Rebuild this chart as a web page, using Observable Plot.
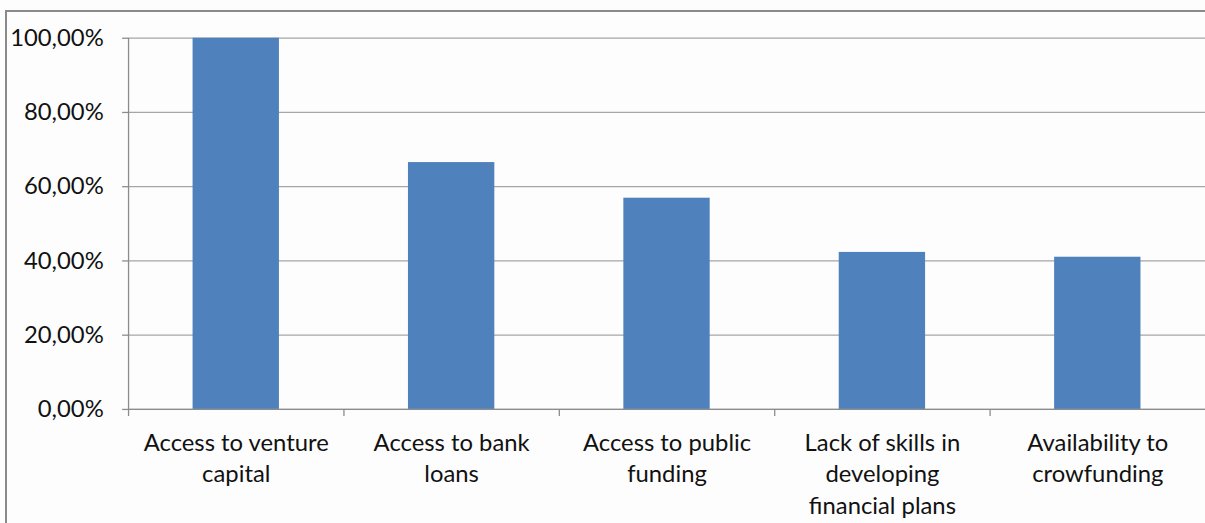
<!DOCTYPE html>
<html>
<head>
<meta charset="utf-8">
<script src="https://cdn.jsdelivr.net/npm/d3@7"></script>
<script src="https://cdn.jsdelivr.net/npm/@observablehq/plot@0.6"></script>
<style>
  html, body { margin: 0; padding: 0; overflow: hidden; background: #fdfdfd; width: 1205px; height: 523px; }
  #frame { position: absolute; left: 5px; top: 10px; width: 1300px; height: 600px; border: 2px solid #8a8a8a; box-sizing: border-box; }
  #chart { position: absolute; left: 0; top: 0; }
  #chart svg { overflow: visible; }
</style>
</head>
<body>
<div id="frame"></div>
<div id="chart"></div>
<script>
const categories = [
  "Access to venture capital",
  "Access to bank loans",
  "Access to public funding",
  "Lack of skills in developing financial plans",
  "Availability to crowfunding"
];
const categoryLabels = [
  "Access to venture\ncapital",
  "Access to bank\nloans",
  "Access to public\nfunding",
  "Lack of skills in\ndeveloping\nfinancial plans",
  "Availability to\ncrowfunding"
];
const values = [1.00, 0.665, 0.569, 0.423, 0.410];
const yTicks = [0, 0.2, 0.4, 0.6, 0.8, 1.0];

const data = categories.map((c, i) => ({category: c, value: values[i]}));
const labelOf = new Map(categories.map((c, i) => [c, categoryLabels[i]]));

const W = 1214, H = 523, ML = 129, MT = 38, MB = 111, MR = 0;
const step = (W - ML - MR) / categories.length;

const fmt = v => (v * 100).toFixed(2).replace(".", ",") + "%";

const chart = Plot.plot({
  width: W,
  height: H,
  marginLeft: ML,
  marginTop: MT,
  marginBottom: MB,
  marginRight: MR,
  style: {fontFamily: "Lato, 'Open Sans', sans-serif", fontSize: "24px", color: "#111", background: "transparent"},
  x: {domain: categories, paddingInner: 0.6, paddingOuter: 0.3, label: null},
  y: {domain: [0, 1], label: null},
  marks: [
    Plot.ruleY(yTicks, {y: d => d, stroke: "#a6a6a6", strokeWidth: 1.3}),
    Plot.barY(data, {x: "category", y: "value", fill: "#4f81bd"}),
    Plot.ruleX([categories[0]], {x: d => d, y1: 1, y2: -0.019, dx: -step / 2, stroke: "#8c8c8c", strokeWidth: 1.3}),
    Plot.ruleX(categories.slice(1), {x: d => d, y1: 0, y2: -0.019, dx: -step / 2, stroke: "#8c8c8c", strokeWidth: 1.3}),
    Plot.ruleY([0], {y: d => d, stroke: "#8c8c8c", strokeWidth: 1.3}),
    Plot.axisY({ticks: yTicks, tickFormat: fmt, tickSize: 6, tickPadding: 19, stroke: "#8c8c8c", strokeWidth: 1.3, fontSize: 24, fill: "#111", label: null}),
    Plot.axisX({tickSize: 0, tickPadding: 19, tickFormat: d => labelOf.get(d), lineHeight: 1.33, fontSize: 24, fill: "#111", label: null})
  ]
});
document.getElementById("chart").appendChild(chart);
</script>
</body>
</html>
